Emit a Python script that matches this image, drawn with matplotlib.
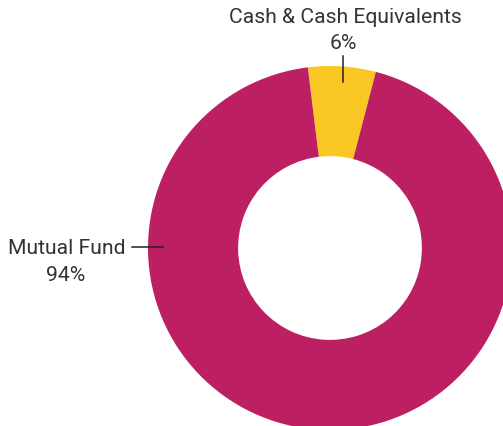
import matplotlib.pyplot as plt

# Holdings breakdown
labels = ['Cash & Cash Equivalents', 'Mutual Fund']
values = [6, 94]
colors = ['#F9C824', '#BC1F62']

plt.rcParams['font.family'] = ['Roboto', 'DejaVu Sans']

W, H = 503, 427
fig = plt.figure(figsize=(W / 100, H / 100), dpi=100)

# donut centre at (330, 249) px from top-left, outer radius 182 px
cx, cy, R = 330, 249, 182
ax = fig.add_axes([(cx - R) / W, (H - cy - R) / H, 2 * R / W, 2 * R / H])
wedges, _ = ax.pie(values, colors=colors, startangle=97, counterclock=False,
                   radius=1, wedgeprops=dict(width=0.495, linewidth=0))
for w in wedges:
    w.set_clip_on(False)
ax.set_xlim(-1, 1)
ax.set_ylim(-1, 1)
ax.set_aspect('equal')
ax.axis('off')

txt = '#333333'
fs = 15.2
# cash label
ax.text(0.082, 1.27, labels[0], ha='center', va='center', fontsize=fs, color=txt)
ax.text(0.072, 1.127, f'{values[0]}%', ha='center', va='center', fontsize=fs, color=txt)
ax.plot([0.071, 0.071], [0.912, 1.055], color='#222222', lw=1.1, clip_on=False)

# mutual fund label
ax.text(-1.449, 0.0, labels[1], ha='center', va='center', fontsize=fs, color=txt)
ax.text(-1.452, -0.143, f'{values[1]}%', ha='center', va='center', fontsize=fs, color=txt)
ax.plot([-1.088, -0.918], [0.005, 0.005], color='#222222', lw=1.1, clip_on=False)

fig.savefig('out.png', dpi=100)
